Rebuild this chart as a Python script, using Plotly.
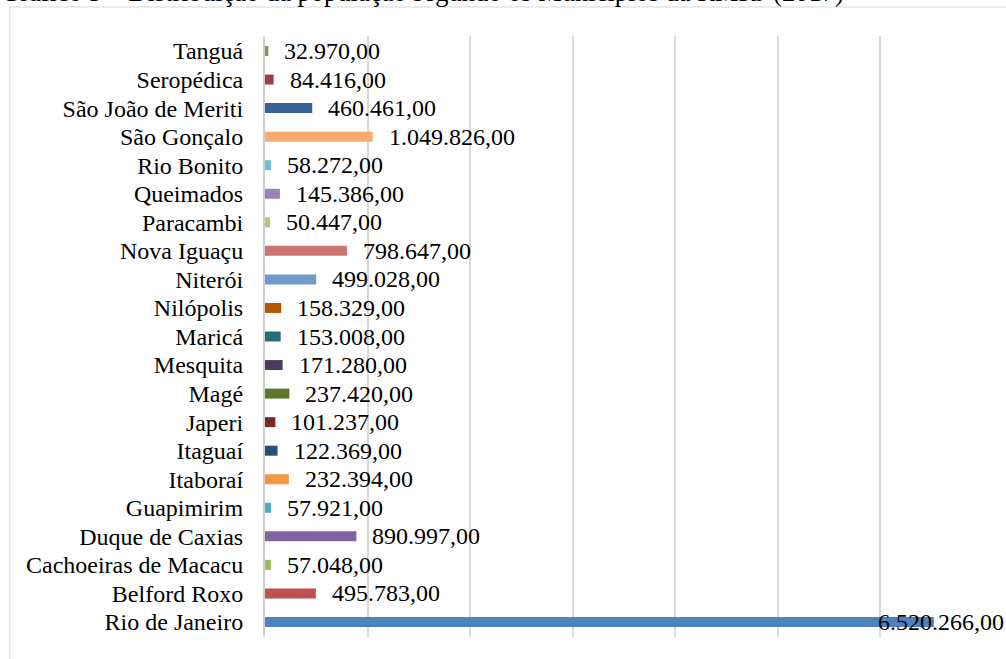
import plotly.graph_objects as go

municipios = ["Rio de Janeiro", "Belford Roxo", "Cachoeiras de Macacu", "Duque de Caxias",
              "Guapimirim", "Itaboraí", "Itaguaí", "Japeri", "Magé", "Mesquita", "Maricá",
              "Nilópolis", "Niterói", "Nova Iguaçu", "Paracambi", "Queimados", "Rio Bonito",
              "São Gonçalo", "São João de Meriti", "Seropédica", "Tanguá"]
populacao = [6520266, 495783, 57048, 890997, 57921, 232394, 122369, 101237, 237420, 171280,
             153008, 158329, 499028, 798647, 50447, 145386, 58272, 1049826, 460461, 84416, 32970]
rotulos = ["6.520.266,00", "495.783,00", "57.048,00", "890.997,00", "57.921,00", "232.394,00",
           "122.369,00", "101.237,00", "237.420,00", "171.280,00", "153.008,00", "158.329,00",
           "499.028,00", "798.647,00", "50.447,00", "145.386,00", "58.272,00", "1.049.826,00",
           "460.461,00", "84.416,00", "32.970,00"]
cores = ["#4F81BD", "#C0504D", "#9BBB59", "#8064A2", "#4BACC6", "#F79646",
         "#2C4D75", "#772C2A", "#5F7530", "#4D3B62", "#276A7C", "#B65708",
         "#729ACA", "#CD7371", "#AFC97A", "#9983B5", "#6FBDD1", "#F9AB6B",
         "#3A6195", "#A33F3C", "#7F9A48"]
titulo = "Gráfico 5 – Distribuição da população segundo os Municípios da RMRJ (2017)"
x_ticks = [0, 1e6, 2e6, 3e6, 4e6, 5e6, 6e6, 7e6]

FONT = "Liberation Serif"

fig = go.Figure(go.Bar(
    x=populacao, y=municipios, orientation="h",
    marker=dict(color=cores, line=dict(width=0)),
    hoverinfo="skip",
))

L, R, T, B = 265, 23, 36, 22
W, H = 1006, 659
pw = W - L - R
ph = H - T - B

annotations = []
for m, v, t in zip(municipios, populacao, rotulos):
    if v > 6e6:
        annotations.append(dict(x=v, y=m, xref="x", yref="y", text=t, showarrow=False,
                                xanchor="right", xshift=72, font=dict(family=FONT, size=24, color="#000")))
    else:
        annotations.append(dict(x=v, y=m, xref="x", yref="y", text=t, showarrow=False,
                                xanchor="left", xshift=14, font=dict(family=FONT, size=24, color="#000")))

# caption (partially cut at top)
annotations.append(dict(x=(-1 - L) / pw, y=(H - B - 9) / ph, xref="paper", yref="paper",
                        text=titulo, showarrow=False, xanchor="left", yanchor="bottom",
                        font=dict(family=FONT, size=26.5, color="#000")))

shapes = [dict(type="rect", xref="paper", yref="paper",
               x0=(10 - L) / pw, x1=(1012 - L) / pw,
               y0=(H - B - 668) / ph, y1=(H - B - 7) / ph,
               line=dict(color="#d9d9d9", width=1), fillcolor="rgba(0,0,0,0)", layer="below")]

fig.update_layout(
    width=W, height=H,
    margin=dict(l=L, r=R, t=T, b=B, pad=0, autoexpand=False),
    paper_bgcolor="white", plot_bgcolor="white",
    bargap=0.65,
    showlegend=False,
    font=dict(family=FONT, size=24, color="#000"),
    xaxis=dict(range=[0, 7e6], tickvals=x_ticks, showticklabels=False, showgrid=True,
               gridcolor="#d9d9d9", gridwidth=2, zeroline=False, showline=False,
               fixedrange=True, automargin=False),
    yaxis=dict(categoryorder="array", categoryarray=municipios, tickmode="array",
               tickvals=municipios, ticktext=municipios, showgrid=False,
               showline=True, linecolor="#cfcfcf", linewidth=2, ticks="", ticklabelstandoff=15,
               tickfont=dict(family=FONT, size=24, color="#000"), zeroline=False,
               fixedrange=True, automargin=False),
    annotations=annotations,
    shapes=shapes,
)

fig.write_html("out.html", config={"displayModeBar": False},
               post_script="document.body.style.margin='0px';document.body.style.overflow='hidden';")
